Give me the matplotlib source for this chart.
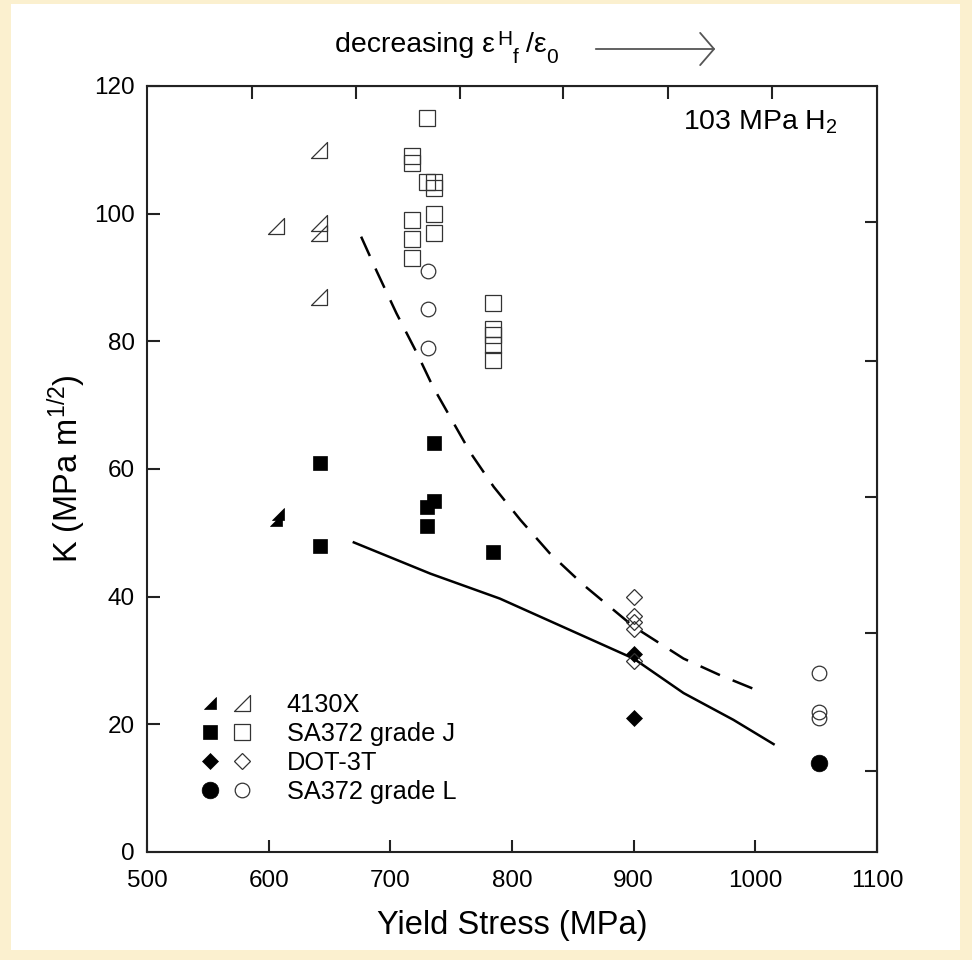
import matplotlib.pyplot as plt
from matplotlib.path import Path
from matplotlib.patches import Rectangle, FancyArrowPatch
from matplotlib.legend_handler import HandlerTuple

plt.rcParams['font.family'] = ['Liberation Sans', 'DejaVu Sans']
plt.rcParams['mathtext.fontset'] = 'custom'
plt.rcParams['mathtext.rm'] = 'Liberation Sans'
plt.rcParams['mathtext.it'] = 'Liberation Sans:italic'
plt.rcParams['mathtext.default'] = 'regular'

# ---- data (yield stress in MPa, K in MPa m^1/2) ----
# 4130X
ys_4130_closed = [606, 608]
k_4130_closed = [52, 53]
ys_4130_open = [641, 641, 641, 606, 641]
k_4130_open = [110, 98.5, 97, 98, 87]

# SA372 grade J
ys_J_closed = [642, 642, 736, 736, 730, 730, 784]
k_J_closed = [61, 48, 64, 55, 54, 51, 47]
ys_J_open = [730, 718, 718, 730, 736, 736, 736, 736, 718, 718, 718,
             784, 784, 784, 784, 784]
k_J_open = [115, 109, 108, 105, 105, 104, 100, 97, 99, 96, 93,
            86, 82, 81, 79.5, 77]

# DOT-3T
ys_DOT_closed = [900, 900]
k_DOT_closed = [31, 21]
ys_DOT_open = [900, 900, 900, 900, 900]
k_DOT_open = [40, 37, 36, 35, 30]

# SA372 grade L
ys_L_closed = [1052]
k_L_closed = [14]
ys_L_open = [731, 731, 731, 1052, 1052, 1052]
k_L_open = [91, 85, 79, 28, 22, 21]

# trend curves
solid_ys = [670, 733, 790, 845, 900, 941, 982, 1015]
solid_k = [48.5, 43.6, 39.7, 35.0, 30.3, 24.9, 20.7, 16.9]
dash_ys = [676, 689, 705, 722, 735, 749, 766, 785, 807, 831, 859, 900,
           941, 971, 1007]
dash_k = [96.4, 90.9, 84.4, 78.1, 72.9, 68.2, 62.5, 57.2, 52.0, 46.8,
          41.8, 35.3, 30.3, 27.7, 24.9]

labels = ['4130X', 'SA372 grade J', 'DOT-3T', 'SA372 grade L']

# secondary tick positions (top / right frame)
top_ticks = [586.3, 671.8, 757.3, 841.9, 928.2, 1013.7]
right_ticks = [12.7, 34.3, 55.6, 76.9, 98.7]

W, H = 972, 960
fig = plt.figure(figsize=(W / 100, H / 100), dpi=100)
fig.patch.set_facecolor('#fbf0cf')
# white sheet on the beige background
fig.patches.append(Rectangle((11 / W, 1 - 950 / H), (960 - 11) / W, (950 - 4) / H,
                             transform=fig.transFigure, facecolor='white',
                             edgecolor='none', zorder=-5))

ax = fig.add_axes([147 / W, 1 - 852 / H, (877 - 147) / W, (852 - 86) / H])

# right-angled triangle marker used for 4130X
tri = Path([(-1, -1), (1, -1), (1, 1), (-1, -1)],
           [Path.MOVETO, Path.LINETO, Path.LINETO, Path.CLOSEPOLY])

ec = '#333333'
lw_m = 0.9

ax.plot(solid_ys, solid_k, '-', color='black', lw=1.8, zorder=2)
ax.plot(dash_ys, dash_k, '--', color='black', lw=1.8, dashes=(8.5, 5.5), zorder=2)

h1c, = ax.plot(ys_4130_closed, k_4130_closed, ls='none', marker=tri, ms=9,
               mfc='black', mec='black', mew=0.5, zorder=3)
h1o, = ax.plot(ys_4130_open, k_4130_open, ls='none', marker=tri, ms=11.5,
               mfc='none', mec=ec, mew=lw_m, zorder=3)
h2c, = ax.plot(ys_J_closed, k_J_closed, ls='none', marker='s', ms=10,
               mfc='black', mec='black', mew=0.5, zorder=3)
h2o, = ax.plot(ys_J_open, k_J_open, ls='none', marker='s', ms=11.5,
               mfc='none', mec=ec, mew=lw_m, zorder=3)
h3c, = ax.plot(ys_DOT_closed, k_DOT_closed, ls='none', marker='D', ms=8.5,
               mfc='black', mec='black', mew=0.5, zorder=3)
h3o, = ax.plot(ys_DOT_open, k_DOT_open, ls='none', marker='D', ms=8.5,
               mfc='none', mec=ec, mew=lw_m, zorder=3)
h4c, = ax.plot(ys_L_closed, k_L_closed, ls='none', marker='o', ms=12,
               mfc='black', mec='black', mew=0.5, zorder=3)
h4o, = ax.plot(ys_L_open, k_L_open, ls='none', marker='o', ms=10.5,
               mfc='none', mec=ec, mew=lw_m, zorder=3)

ax.set_xlim(500, 1100)
ax.set_ylim(0, 120)
ax.set_xticks(range(500, 1101, 100))
ax.set_yticks(range(0, 121, 20))
ax.tick_params(direction='in', length=9, width=1.5, color='#222222',
               labelsize=17.5, pad=13)
ax.tick_params(axis='y', pad=9)
for s in ax.spines.values():
    s.set_linewidth(1.5)
    s.set_color('#222222')

secx = ax.secondary_xaxis('top')
secx.set_xticks(top_ticks)
secx.tick_params(direction='in', length=9, width=1.5, color='#222222',
                 labeltop=False)
secy = ax.secondary_yaxis('right')
secy.set_yticks(right_ticks)
secy.tick_params(direction='in', length=9, width=1.5, color='#222222',
                 labelright=False)

ax.set_xlabel('Yield Stress (MPa)', fontsize=23.5, labelpad=13)
ax.set_ylabel('K (MPa m$^{1/2}$)', fontsize=23.5, labelpad=4)

ax.text(683 / W, 1 - 130 / H, '103 MPa H$_2$', transform=fig.transFigure,
        fontsize=20.5, ha='left', va='baseline')

# heading: decreasing eps^H_f / eps_0 with an arrow
t1 = fig.text(335 / W, 1 - 52 / H, 'decreasing \u03b5', fontsize=20.5,
              ha='left', va='baseline')
ax.annotate('H', xy=(1, 1), xycoords=t1, xytext=(2, 2),
            textcoords='offset pixels', fontsize=15, ha='left', va='top',
            annotation_clip=False)
ax.annotate('f', xy=(1, 0), xycoords=t1, xytext=(18, -9),
            textcoords='offset pixels', fontsize=15, ha='left', va='bottom',
            annotation_clip=False)
rest = ax.annotate('/\u03b5', xy=(1, 0), xycoords=t1, xytext=(31, 0),
                   textcoords='offset pixels', fontsize=20.5, ha='left',
                   va='bottom', annotation_clip=False)
ax.annotate('0', xy=(1, 0), xycoords=rest, xytext=(0, -9),
            textcoords='offset pixels', fontsize=15, ha='left',
            va='bottom', annotation_clip=False)
fig.patches.append(FancyArrowPatch((593 / W, 1 - 49 / H), (718 / W, 1 - 49 / H),
                                   transform=fig.transFigure,
                                   arrowstyle='->,head_length=5,head_width=5.8',
                                   color='#555555', lw=1.3, mutation_scale=2))

ax.legend([(h1c, h1o), (h2c, h2o), (h3c, h3o), (h4c, h4o)], labels,
          handler_map={tuple: HandlerTuple(ndivide=None, pad=0)},
          loc='upper left', bbox_to_anchor=(194 / W, 1 - 693 / H),
          bbox_transform=fig.transFigure, frameon=False, fontsize=18.3,
          handlelength=2.5, handletextpad=1.15, labelspacing=0.2,
          borderpad=0, borderaxespad=0, numpoints=1)

fig.savefig('out.png', dpi=100, facecolor=fig.get_facecolor())
